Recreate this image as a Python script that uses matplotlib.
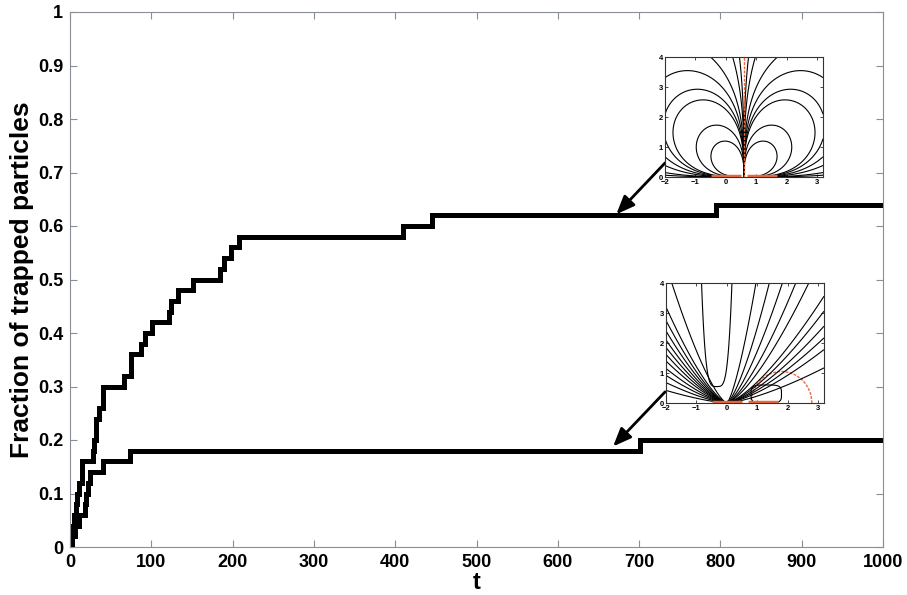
import numpy as np
import matplotlib
matplotlib.use("Agg")
import matplotlib.pyplot as plt
from matplotlib.patches import Arc

plt.rcParams['font.family'] = ['Liberation Sans', 'DejaVu Sans']
plt.rcParams['contour.negative_linestyle'] = 'solid'

# trapped fraction, upper run (jump time, value after jump)
t_upper = [0, 2, 3, 5, 7, 9, 11, 15, 28, 30, 32, 36, 41, 66, 75, 87, 92, 101,
           122, 124, 133, 151, 184, 189, 198, 208, 410, 445, 795, 1000]
f_upper = [0, .02, .04, .06, .08, .10, .12, .16, .18, .20, .24, .26, .30, .32,
           .36, .38, .40, .42, .44, .46, .48, .50, .52, .54, .56, .58, .60, .62,
           .64, .64]

# trapped fraction, lower run
t_lower = [0, 3, 6, 11, 18, 20, 22, 25, 40, 74, 701, 1000]
f_lower = [0, .02, .04, .06, .08, .10, .12, .14, .16, .18, .20, .20]

x_ticks = [0, 100, 200, 300, 400, 500, 600, 700, 800, 900, 1000]
y_ticks = [0, 0.1, 0.2, 0.3, 0.4, 0.5, 0.6, 0.7, 0.8, 0.9, 1]
y_ticklabels = ['0', '0.1', '0.2', '0.3', '0.4', '0.5', '0.6', '0.7', '0.8', '0.9', '1']

# arrows: (tail t, tail f, head t, head f)
arrow_upper = (732, 0.718, 672, 0.622)
arrow_lower = (732, 0.29, 668, 0.188)

# inset sketches (streamline pictures)
plates = [(-0.5, 0.5), (0.7, 1.7)]
# top inset: size of each cell streamline (closed loops, then open ones)
cell_sizes_top = [1.35, 1.95, 2.9, 3.3, 4.0, 5.1, 8.1, 12.7]
# bottom inset: where streamlines meet the frame
left_edge_y = [0.42, 0.68, 0.92, 1.15, 1.4, 1.62, 1.85, 2.1, 2.4, 2.75, 3.2]
top_x = [-1.81, 0.96, 1.40, 1.83, 2.27, 2.7]
right_edge_y = [3.56, 3.06, 2.56, 2.17, 1.78, 1.17]

gray = '#8a8f96'
red = '#e8673f'

fig = plt.figure(figsize=(9.07, 5.95), dpi=100)
ax = fig.add_axes([70 / 907, 48 / 595, 813 / 907, 535 / 595])

ax.step(t_upper, f_upper, where='post', color='black', lw=3.6, solid_joinstyle='miter')
ax.step(t_lower, f_lower, where='post', color='black', lw=3.6, solid_joinstyle='miter')

for a in (arrow_upper, arrow_lower):
    ax.annotate('', xy=(a[2], a[3]), xytext=(a[0], a[1]),
                arrowprops=dict(arrowstyle='-|>,head_length=1.1,head_width=0.45',
                                color='black', lw=2.0, shrinkA=0, shrinkB=0))

ax.set_xlim(0, 1000)
ax.set_ylim(0, 1)
ax.set_xticks(x_ticks)
ax.set_yticks(y_ticks)
ax.set_yticklabels(y_ticklabels)
ax.tick_params(direction='in', top=True, right=True, length=5, width=0.8,
               color=gray, labelsize=13, pad=5)
for lab in ax.get_xticklabels() + ax.get_yticklabels():
    lab.set_fontweight('bold')
for s in ax.spines.values():
    s.set_color(gray)
    s.set_linewidth(0.8)
ax.set_xlabel('t', fontsize=17, fontweight='bold', labelpad=0)
ax.set_ylabel('Fraction of trapped particles', fontsize=19, fontweight='bold', labelpad=3)


def style_inset(iax):
    iax.set_xlim(-2, 3.2)
    iax.set_ylim(0, 4)
    iax.set_xticks([-2, -1, 0, 1, 2, 3])
    iax.set_yticks([0, 1, 2, 3, 4])
    iax.tick_params(direction='in', top=True, right=True, length=2, width=0.5,
                    labelsize=5.5, pad=1.5)
    for lab in iax.get_xticklabels() + iax.get_yticklabels():
        lab.set_fontweight('bold')
    for s in iax.spines.values():
        s.set_linewidth(0.8)
        s.set_color('#333333')


xg = np.linspace(-2, 3.2, 520)
yg = np.linspace(0.003, 4, 420)
XX, YY = np.meshgrid(xg, yg)

# top inset: two counter-rotating cells about x = 0.6
ins1 = fig.add_axes([665 / 907, 418 / 595, 158 / 907, 120 / 595])
Xs = XX - 0.6
Ys = YY / 1.1
psi1 = Xs * Ys / (Xs ** 2 + Ys ** 2) ** 2
k = sorted(1.0 / (2 * np.array(cell_sizes_top) ** 2))
lev1 = sorted([-v for v in k]) + k
ins1.contour(XX, YY, psi1, levels=lev1, colors='black', linewidths=0.8)
ins1.plot([0.6, 0.6], [0, 4], color=red, lw=1.0, ls=(0, (2, 1)))
for p in plates:
    ins1.plot(p, [0.02, 0.02], color=red, lw=2.5, solid_capstyle='butt')
style_inset(ins1)

# bottom inset: streamlines gathering onto the left particle
ins2 = fig.add_axes([666 / 907, 192 / 595, 158 / 907, 120 / 595])
q = 1.4


def fan(x, y):
    return np.arctan2(y, x * np.abs(x) ** (q - 1))


psi2 = fan(XX, YY)
lev2 = sorted([fan(-2.0, v) for v in left_edge_y] + [fan(v, 4.0) for v in top_x]
              + [fan(3.2, v) for v in right_edge_y])
ins2.contour(XX, YY, psi2, levels=lev2, colors='black', linewidths=0.8)
g_u = ((XX + 0.33) / 0.5) ** 2 - (np.clip(YY - 0.55, 0, None) / 3.45) ** 0.5
ins2.contour(XX, YY, g_u, levels=[0], colors='black', linewidths=0.8)
g_l = ((XX - 1.3) / 0.5) ** 4 + ((YY - 0.3) / 0.3) ** 4
ins2.contour(XX, YY, g_l, levels=[1], colors='black', linewidths=0.8)
ins2.add_patch(Arc((1.8, 0), 2.0, 2.1, theta1=0, theta2=180, color=red, lw=1.0,
                   ls=(0, (2, 1))))
for p in plates:
    ins2.plot(p, [0.03, 0.03], color=red, lw=2.5, solid_capstyle='butt')
style_inset(ins2)

fig.savefig('out.png', dpi=100)
